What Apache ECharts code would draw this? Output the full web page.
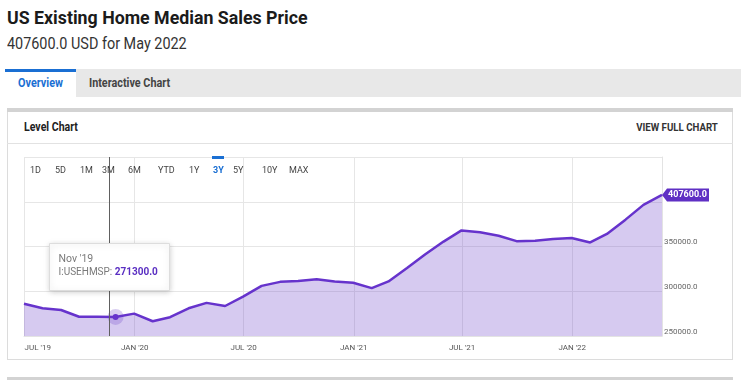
<!DOCTYPE html>
<html>
<head>
<meta charset="utf-8">
<script src="https://cdn.jsdelivr.net/npm/echarts@6/dist/echarts.min.js"></script>
<style>
html,body{margin:0;padding:0;background:#fff;width:741px;height:380px;overflow:hidden;font-family:Roboto,"Noto Sans",sans-serif;}
.abs{position:absolute;white-space:nowrap;}
#title{left:7px;top:7px;font-size:18.5px;font-weight:700;color:#1b1b1b;transform:scaleX(0.96);transform-origin:0 0;}
#sub{left:7px;top:34px;font-size:16px;color:#333;transform:scaleX(0.9);transform-origin:0 0;}
#tabbar{left:5px;top:69px;width:736px;height:28px;background:#e8e8e8;}
#tab1{left:5px;top:69px;width:71px;height:25px;background:#fff;border-top:3px solid #1a6fd3;}
#tab1txt{left:5px;top:76px;width:71px;text-align:center;font-size:12px;font-weight:700;color:#1a6fd3;transform:scaleX(0.9);}
#tab2txt{left:89px;top:76px;font-size:12px;font-weight:700;color:#444;transform:scaleX(0.9);transform-origin:0 0;}
#topbar{left:7px;top:108px;width:726px;height:4px;background:#d3d3d3;}
#panel{left:7px;top:112px;width:724px;height:247px;border:1px solid #dcdcdc;border-top:none;}
#hdrline{left:7px;top:143px;width:726px;height:1px;background:#e2e2e2;}
#lvl{left:24px;top:120px;font-size:12px;font-weight:700;color:#222;transform:scaleX(0.88);transform-origin:0 0;}
#vfc{right:23px;top:121px;font-size:11px;font-weight:700;color:#333;transform:scaleX(0.88);transform-origin:100% 0;}
#botbar{left:7px;top:377px;width:726px;height:3px;background:#d3d3d3;}
#chart{position:absolute;left:0;top:0;width:741px;height:380px;}
</style>
</head>
<body>
<div class="abs" id="title">US Existing Home Median Sales Price</div>
<div class="abs" id="sub">407600.0 USD for May 2022</div>
<div class="abs" id="tabbar"></div>
<div class="abs" id="tab1"></div>
<div class="abs" id="tab1txt">Overview</div>
<div class="abs" id="tab2txt">Interactive Chart</div>
<div class="abs" id="topbar"></div>
<div class="abs" id="panel"></div>
<div class="abs" id="hdrline"></div>
<div class="abs" id="lvl">Level Chart</div>
<div class="abs" id="vfc">VIEW FULL CHART</div>
<div class="abs" id="botbar"></div>
<div id="chart"></div>
<script>
// ---- data ----
const dates = [
  '2019-06-30','2019-07-31','2019-08-31','2019-09-30','2019-10-31','2019-11-30','2019-12-31',
  '2020-01-31','2020-02-29','2020-03-31','2020-04-30','2020-05-31','2020-06-30','2020-07-31',
  '2020-08-31','2020-09-30','2020-10-31','2020-11-30','2020-12-31',
  '2021-01-31','2021-02-28','2021-03-31','2021-04-30','2021-05-31','2021-06-30','2021-07-31',
  '2021-08-31','2021-09-30','2021-10-31','2021-11-30','2021-12-31',
  '2022-01-31','2022-02-28','2022-03-31','2022-04-30','2022-05-31'
];
const values = [
  286000, 281000, 279000, 271500, 271400, 271300, 275000,
  266500, 271000, 281000, 287000, 283500, 294000, 306000,
  310500, 311500, 313500, 311000, 309500,
  303500, 311000, 326000, 341000, 355500, 368000, 366000,
  362000, 356000, 356500, 358500, 359500,
  354500, 364000, 380000, 396500, 407600
];
const tickDates = ['2019-07-01','2020-01-01','2020-07-01','2021-01-01','2021-07-01','2022-01-01'];
const tickLabels = ["JUL '19","JAN '20","JUL '20","JAN '21","JUL '21","JAN '22"];
const yLabelValues = [250000, 300000, 350000];
const rangeButtons = ['1D','5D','1M','3M','6M','YTD','1Y','3Y','5Y','10Y','MAX'];
const activeRange = '3Y';
const seriesCode = 'I:USEHMSP';
const hoverIndex = 5;
const hoverLabel = "Nov '19";
const crosshairDate = '2019-11-19';

// ---- styles ----
const LINE = '#6633cc';
const TAG = '#5f2fc4';
const rangeX = [30, 55, 80, 102, 128, 158, 189, 213, 233, 262, 289];

const toTs = s => { const p = s.split('-').map(Number); return Date.UTC(p[0], p[1] - 1, p[2]); };
const tickTs = tickDates.map(toTs);
const seriesData = dates.map((d, i) => [toTs(d), values[i]]);
const last = values.length - 1;

const chart = echarts.init(document.getElementById('chart'), null, {renderer: 'canvas'});

const graphics = rangeButtons.map((b, i) => ({
  type: 'text', left: rangeX[i], top: 166, z: 10,
  style: {text: b, fill: b === activeRange ? '#1a6fd3' : '#444', font: (b === activeRange ? 'bold ' : '') + '9px Roboto'}
}));
const ai = rangeButtons.indexOf(activeRange);
graphics.push({type: 'rect', left: rangeX[ai] - 1, top: 156, z: 10, shape: {width: 12, height: 3}, style: {fill: '#1a6fd3'}});
graphics.push({
  type: 'group', left: 49, top: 243, zlevel: 2,
  children: [
    {type: 'rect', z: 100, zlevel: 2, shape: {width: 120, height: 47}, style: {fill: '#fff', stroke: '#dddddd', lineWidth: 1, shadowBlur: 6, shadowColor: 'rgba(0,0,0,0.18)', shadowOffsetY: 1}},
    {type: 'text', z: 101, zlevel: 2, left: 9, top: 10, style: {text: hoverLabel, fill: '#7a7a7a', font: '10.5px Roboto'}},
    {type: 'text', z: 101, zlevel: 2, left: 9, top: 24, style: {
      text: seriesCode + ': {v|' + values[hoverIndex].toFixed(1) + '}',
      fill: '#7a7a7a', font: '10px Roboto',
      rich: {v: {fill: '#5a2fc2', fontWeight: 'bold', fontSize: 10, fontFamily: 'Roboto'}}
    }}
  ]
});

chart.setOption({
  animation: false,
  backgroundColor: 'transparent',
  grid: {left: 24, right: 79, top: 157, bottom: 44, containLabel: false},
  xAxis: {
    type: 'value',
    min: toTs(dates[0]), max: toTs(dates[last]),
    axisLine: {show: true, lineStyle: {color: '#e3e3e3'}},
    axisTick: {show: false, customValues: tickTs},
    splitLine: {show: true, lineStyle: {color: '#e6e6e6', width: 1}},
    axisLabel: {
      customValues: tickTs,
      formatter: v => {
        let bi = 0, bd = Infinity;
        tickTs.forEach((t, i) => { const d = Math.abs(t - v); if (d < bd) { bd = d; bi = i; } });
        return tickLabels[bi];
      },
      color: '#555', fontSize: 8, fontFamily: 'Roboto', margin: 8, alignMinLabel: 'left',
      showMinLabel: true, showMaxLabel: true
    }
  },
  yAxis: {
    type: 'value', position: 'right',
    min: 250000, max: 450000, interval: 50000,
    axisLine: {show: true, lineStyle: {color: '#e3e3e3'}},
    axisTick: {show: false},
    splitLine: {show: true, lineStyle: {color: '#e6e6e6', width: 1}},
    axisLabel: {
      customValues: yLabelValues,
      formatter: v => Number(v).toFixed(1),
      color: '#666', fontSize: 8, fontFamily: 'Roboto', margin: 2,
      verticalAlign: 'bottom', lineHeight: 9
    }
  },
  series: [
    {
      type: 'line', data: seriesData, symbol: 'none', z: 3,
      lineStyle: {color: LINE, width: 2.5},
      areaStyle: {color: 'rgba(103,58,200,0.27)', opacity: 1},
      markLine: {
        silent: true, symbol: ['none', 'none'], animation: false,
        label: {show: false},
        lineStyle: {color: '#606060', width: 1, type: 'solid'},
        emphasis: {disabled: true},
        data: [{xAxis: toTs(crosshairDate)}]
      },
      markPoint: {
        silent: true, animation: false,
        symbol: 'path://M0,6.5 L5,0 L47,0 L47,13 L5,13 Z',
        symbolSize: [47, 13], symbolOffset: [23.5, 0], symbolKeepAspect: false,
        itemStyle: {color: TAG},
        label: {show: true, position: 'inside', offset: [2, 0], color: '#fff', fontWeight: 'bold', fontSize: 9, fontFamily: 'Roboto',
          formatter: p => Number(p.value).toFixed(1)},
        data: [{coord: seriesData[last], value: values[last]}]
      }
    },
    {
      type: 'scatter', z: 4, silent: true,
      data: [seriesData[hoverIndex]], symbolSize: 16,
      itemStyle: {color: 'rgba(103,58,200,0.25)', opacity: 1}
    },
    {
      type: 'scatter', z: 5, silent: true,
      data: [seriesData[hoverIndex]], symbolSize: 6,
      itemStyle: {color: LINE, opacity: 1}
    }
  ],
  graphic: graphics
});
</script>
</body>
</html>
